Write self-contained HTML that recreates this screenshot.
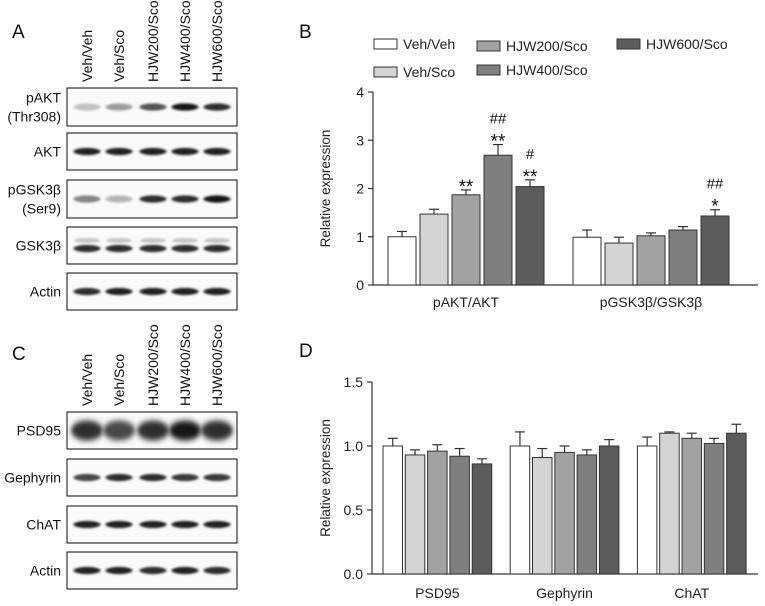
<!DOCTYPE html>
<html><head><meta charset="utf-8"><style>
html,body{margin:0;padding:0;background:#fff}
svg{display:block;font-family:"Liberation Sans",Arial,sans-serif}
</style></head><body>
<svg id="fig" width="765" height="606" viewBox="0 0 765 606">
<defs>
<filter id="blur1" x="-50%" y="-100%" width="200%" height="300%"><feGaussianBlur stdDeviation="1.4 1.1"/></filter>
<filter id="blur2" x="-50%" y="-100%" width="200%" height="300%"><feGaussianBlur stdDeviation="2.5 3"/></filter>
</defs>
<g id="blots"></g>
<g id="chartB"></g>
<g id="chartD"></g>
</svg>
<script>
const NS="http://www.w3.org/2000/svg";
function mk(parent,tag,attrs,text){const e=document.createElementNS(NS,tag);for(const k in attrs)e.setAttribute(k,attrs[k]);if(text!==undefined)e.textContent=text;parent.appendChild(e);return e;}

// ---- data ----
const groups=["Veh/Veh","Veh/Sco","HJW200/Sco","HJW400/Sco","HJW600/Sco"];
const fills=["#ffffff","#d4d4d4","#a2a2a2","#7f7f7f","#5c5c5c"];
const catsB=["pAKT/AKT","pGSK3β/GSK3β"];
const valsB=[[1.0,1.47,1.87,2.69,2.04],[0.99,0.87,1.02,1.14,1.43]];
const errB=[[0.11,0.10,0.10,0.22,0.14],[0.15,0.12,0.06,0.07,0.13]];
const annB=[[[],[],["**"],["##","**"],["#","**"]],[[],[],[],[],["##","*"]]];
const ticksB=[0,1,2,3,4];
const catsD=["PSD95","Gephyrin","ChAT"];
const valsD=[[1.0,0.93,0.96,0.92,0.86],[1.0,0.91,0.95,0.93,1.0],[1.0,1.10,1.06,1.02,1.10]];
const errD=[[0.06,0.04,0.05,0.06,0.04],[0.11,0.07,0.05,0.04,0.05],[0.07,0.01,0.04,0.04,0.07]];
const ticksD=[0,0.5,1.0,1.5];
const blotA=["pAKT|(Thr308)","AKT","pGSK3β|(Ser9)","GSK3β","Actin"];
const intA=[[0.25,0.4,0.7,0.95,0.85],[0.9,0.9,0.9,0.9,0.9],[0.5,0.3,0.85,0.85,0.95],[0.85,0.85,0.85,0.85,0.85],[0.85,0.9,0.9,0.9,0.9]];
const blotC=["PSD95","Gephyrin","ChAT","Actin"];
const intC=[[0.85,0.75,0.85,0.95,0.85],[0.75,0.85,0.85,0.8,0.8],[0.9,0.9,0.9,0.9,0.9],[0.9,0.9,0.85,0.9,0.85]];

// ---- blots ----
const B=document.getElementById('blots');
const lanes=[87,119,153,185,217];
function laneLabels(bottom,prefix){groups.forEach((g,i)=>{const t=mk(B,'text',{x:lanes[i]+5,y:bottom,transform:`rotate(-90 ${lanes[i]+5} ${bottom})`,'font-size':'14',fill:'#111'},g);

});}
function blotPanel(names,ints,boxes,prefix){names.forEach((n,r)=>{const [y0,y1]=boxes[r];
const g=mk(B,'g',{});
mk(g,'rect',{x:67,y:y0,width:170,height:y1-y0,fill:'#fafafa',stroke:'#333','stroke-width':1.2});
const cy=(y0+y1)/2;const big=(n==="PSD95");
ints[r].forEach((v,i)=>{const c=Math.round(255-245*v);
mk(g,'ellipse',{cx:lanes[i],cy:cy+(n==="GSK3β"?3:0),rx:big?16:13.5,ry:big?10:3.6,fill:`rgb(${c},${c},${c})`,filter:big?'url(#blur2)':'url(#blur1)'});
if(n==="GSK3β")mk(g,'ellipse',{cx:lanes[i],cy:cy-5,rx:13,ry:2.5,fill:'#c4c4c4',filter:'url(#blur1)'});});
const parts=n.split('|');parts.forEach((p,k)=>{const t=mk(B,'text',{x:61,y:cy+5+(parts.length>1?(k-0.5)*19:0),'text-anchor':'end','font-size':'14',fill:'#111'},p);
});});}
let t=mk(B,'text',{x:12,y:38,'font-size':'19',fill:'#111'},'A');
t=mk(B,'text',{x:12,y:360,'font-size':'19',fill:'#111'},'C');
laneLabels(82,'a-');
blotPanel(blotA,intA,[[88,126],[133,170],[180,218],[227,264],[273,310]],'a');
laneLabels(406,'c-');
blotPanel(blotC,intC,[[412,449],[459,496],[506,543],[552,589]],'c');

// ---- bar charts ----
function barChart(gid,o){const G=document.getElementById(gid);
const y=v=>o.y0-(v-o.min)/(o.max-o.min)*(o.y0-o.yTop);
mk(G,'line',{x1:o.ax,y1:o.yTop,x2:o.ax,y2:o.y0,stroke:'#333','stroke-width':1.2});
mk(G,'line',{x1:o.ax,y1:o.y0,x2:o.xEnd,y2:o.y0,stroke:'#333','stroke-width':1.2});
o.ticks.forEach(tv=>{mk(G,'line',{x1:o.ax-5,y1:y(tv),x2:o.ax,y2:y(tv),stroke:'#333','stroke-width':1.2});
const tl=mk(G,'text',{x:o.ax-9,y:y(tv)+5,'text-anchor':'end','font-size':'14',fill:'#222'},o.fmt(tv));
});
const yt=mk(G,'text',{x:o.titleX,y:(o.yTop+o.y0)/2,transform:`rotate(-90 ${o.titleX} ${(o.yTop+o.y0)/2})`,'text-anchor':'middle','font-size':'13.5',fill:'#222'},'Relative expression');

o.cats.forEach((c,ci)=>{const gx=o.gStart+ci*o.gStep;
o.vals[ci].forEach((v,i)=>{const x=gx+i*o.bStep;const top=y(v),et=y(v+o.err[ci][i]);const cx=x+o.bw/2;
mk(G,'line',{x1:cx,y1:top,x2:cx,y2:et,stroke:'#333','stroke-width':1.2});
mk(G,'line',{x1:cx-5,y1:et,x2:cx+5,y2:et,stroke:'#333','stroke-width':1.2});
const r=mk(G,'rect',{x:x,y:top,width:o.bw,height:o.y0-top,fill:fills[i],stroke:'#333','stroke-width':1});


if(o.ann){o.ann[ci][i].forEach((a,k,arr)=>{const n=arr.length-1-k;const star=a.indexOf('*')>=0;
const at=mk(G,'text',{x:cx,y:et-5-n*16+(star?8:0),'text-anchor':'middle','font-size':star?'19':'15',fill:'#111'},a);
});}});
const cl=mk(G,'text',{x:gx+(4*o.bStep+o.bw)/2,y:o.labelY,'text-anchor':'middle','font-size':'14',fill:'#222'},c);
});}

barChart('chartB',{ax:373,yTop:92,y0:285,xEnd:758,min:0,max:4,ticks:ticksB,fmt:v=>String(v),titleX:330,
cats:catsB,vals:valsB,err:errB,ann:annB,gStart:388,gStep:185,bStep:32,bw:28,labelY:307});
barChart('chartD',{ax:372,yTop:382,y0:574,xEnd:758,min:0,max:1.5,ticks:ticksD,fmt:v=>v.toFixed(1),titleX:330,
cats:catsD,vals:valsD,err:errD,ann:null,gStart:383,gStep:127.2,bStep:22.3,bw:19.5,labelY:598});

// panel letters + legend
const CB=document.getElementById('chartB');
t=mk(CB,'text',{x:299,y:38,'font-size':'19',fill:'#111'},'B');
t=mk(document.getElementById('chartD'),'text',{x:299,y:357,'font-size':'19',fill:'#111'},'D');
const legPos=[[374,44],[374,72],[477,46],[477,70],[617,44]];
groups.forEach((g,i)=>{const [lx,ly]=legPos[i];const lg=mk(CB,'g',{});


mk(lg,'rect',{x:lx,y:ly-5,width:23,height:10,fill:fills[i],stroke:'#333','stroke-width':1});
mk(lg,'text',{x:lx+29,y:ly+5,'font-size':'14',fill:'#222'},g);});
</script>
</body></html>
